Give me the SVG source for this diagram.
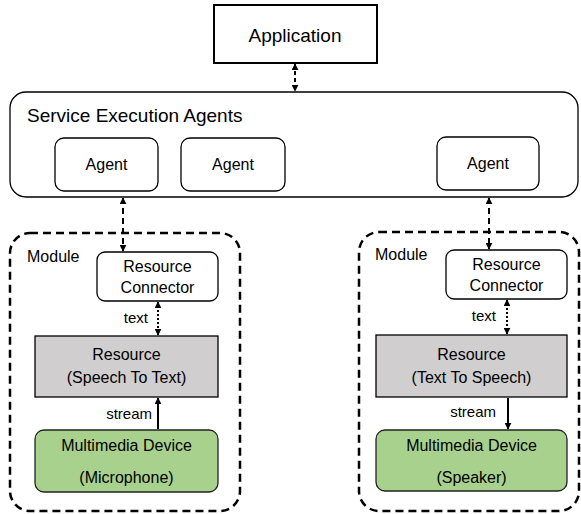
<svg xmlns="http://www.w3.org/2000/svg" width="581" height="514" viewBox="0 0 581 514">
<defs>
<marker id="ah" viewBox="0 0 10 10" refX="9" refY="5" markerWidth="7" markerHeight="7" markerUnits="userSpaceOnUse" orient="auto-start-reverse">
<path d="M0,0 L10,5 L0,10 z" fill="#000"/>
</marker>
</defs>
<style>
text{font-family:"Liberation Sans",Arial,sans-serif;fill:#000}
.lbl{font-size:16px;text-anchor:middle}
.small{font-size:15px}
.box{fill:#fff;stroke:#000;stroke-width:1.3}
.mod{fill:none;stroke:#000;stroke-width:2.5;stroke-dasharray:8,5}
.res{fill:#d0cece;stroke:#000;stroke-width:1.3}
.dev{fill:#a9d18e;stroke:#222;stroke-width:1.3}
.ln{stroke:#000;stroke-width:2;fill:none}
</style>
<g id="application">
<rect x="214" y="5" width="163" height="58" fill="#fff" stroke="#000" stroke-width="2"/>
<text x="295" y="42" class="lbl" style="font-size:19px">Application</text>
</g>
<g id="sea">
<rect x="10" y="92" width="568" height="105" rx="16" class="box"/>
<text x="27" y="122" style="font-size:19px">Service Execution Agents</text>
</g>
<g id="agent1">
<rect x="55" y="138" width="103" height="53" rx="9" class="box"/>
<text x="106.5" y="170" class="lbl">Agent</text>
</g>
<g id="agent2">
<rect x="181" y="138" width="104" height="53" rx="9" class="box"/>
<text x="233" y="170" class="lbl">Agent</text>
</g>
<g id="agent3">
<rect x="437" y="137" width="102" height="53" rx="9" class="box"/>
<text x="488" y="169" class="lbl">Agent</text>
</g>
<g id="moduleL">
<rect x="10" y="233" width="230" height="278" rx="20" class="mod"/>
<text x="27" y="262" style="font-size:16px">Module</text>
</g>
<g id="moduleR">
<rect x="359" y="232" width="220" height="279" rx="20" class="mod"/>
<text x="375" y="260" style="font-size:16px">Module</text>
</g>
<g id="connL">
<rect x="97" y="252" width="121" height="49" rx="8" class="box"/>
<text x="157.5" y="272" class="lbl">Resource</text>
<text x="157.5" y="293" class="lbl">Connector</text>
</g>
<g id="connR">
<rect x="446" y="250" width="121" height="49" rx="8" class="box"/>
<text x="506.5" y="270" class="lbl">Resource</text>
<text x="506.5" y="291" class="lbl">Connector</text>
</g>
<g id="resL">
<rect x="35" y="336" width="183" height="61" class="res"/>
<text x="126.5" y="360" class="lbl">Resource</text>
<text x="126.5" y="383" class="lbl">(Speech To Text)</text>
</g>
<g id="resR">
<rect x="376" y="335" width="191" height="62" class="res"/>
<text x="471.5" y="360" class="lbl">Resource</text>
<text x="471.5" y="383" class="lbl">(Text To Speech)</text>
</g>
<g id="devL">
<rect x="35" y="430" width="183" height="62" rx="9" class="dev"/>
<text x="126.5" y="451" class="lbl">Multimedia Device</text>
<text x="126.5" y="483" class="lbl">(Microphone)</text>
</g>
<g id="devR">
<rect x="376" y="430" width="191" height="61" rx="9" class="dev"/>
<text x="471.5" y="451" class="lbl">Multimedia Device</text>
<text x="471.5" y="483" class="lbl">(Speaker)</text>
</g>
<g id="connectors">
<line x1="295" y1="64" x2="295" y2="91" class="ln" stroke-dasharray="4,3" marker-start="url(#ah)" marker-end="url(#ah)"/>
<line x1="123" y1="198" x2="123" y2="251" class="ln" stroke-dasharray="6,4" marker-start="url(#ah)" marker-end="url(#ah)"/>
<line x1="489" y1="198" x2="489" y2="249" class="ln" stroke-dasharray="6,4" marker-start="url(#ah)" marker-end="url(#ah)"/>
<line x1="158" y1="302" x2="158" y2="335" class="ln" stroke-dasharray="2,2" marker-start="url(#ah)" marker-end="url(#ah)"/>
<line x1="507" y1="300" x2="507" y2="334" class="ln" stroke-dasharray="2,2" marker-start="url(#ah)" marker-end="url(#ah)"/>
<line x1="158" y1="429" x2="158" y2="398" class="ln" marker-end="url(#ah)"/>
<line x1="508" y1="398" x2="508" y2="429" class="ln" marker-end="url(#ah)"/>
<text x="148" y="323" class="small" text-anchor="end">text</text>
<text x="496" y="321" class="small" text-anchor="end">text</text>
<text x="152" y="419" class="small" text-anchor="end">stream</text>
<text x="496" y="417" class="small" text-anchor="end">stream</text>
</g>
</svg>
